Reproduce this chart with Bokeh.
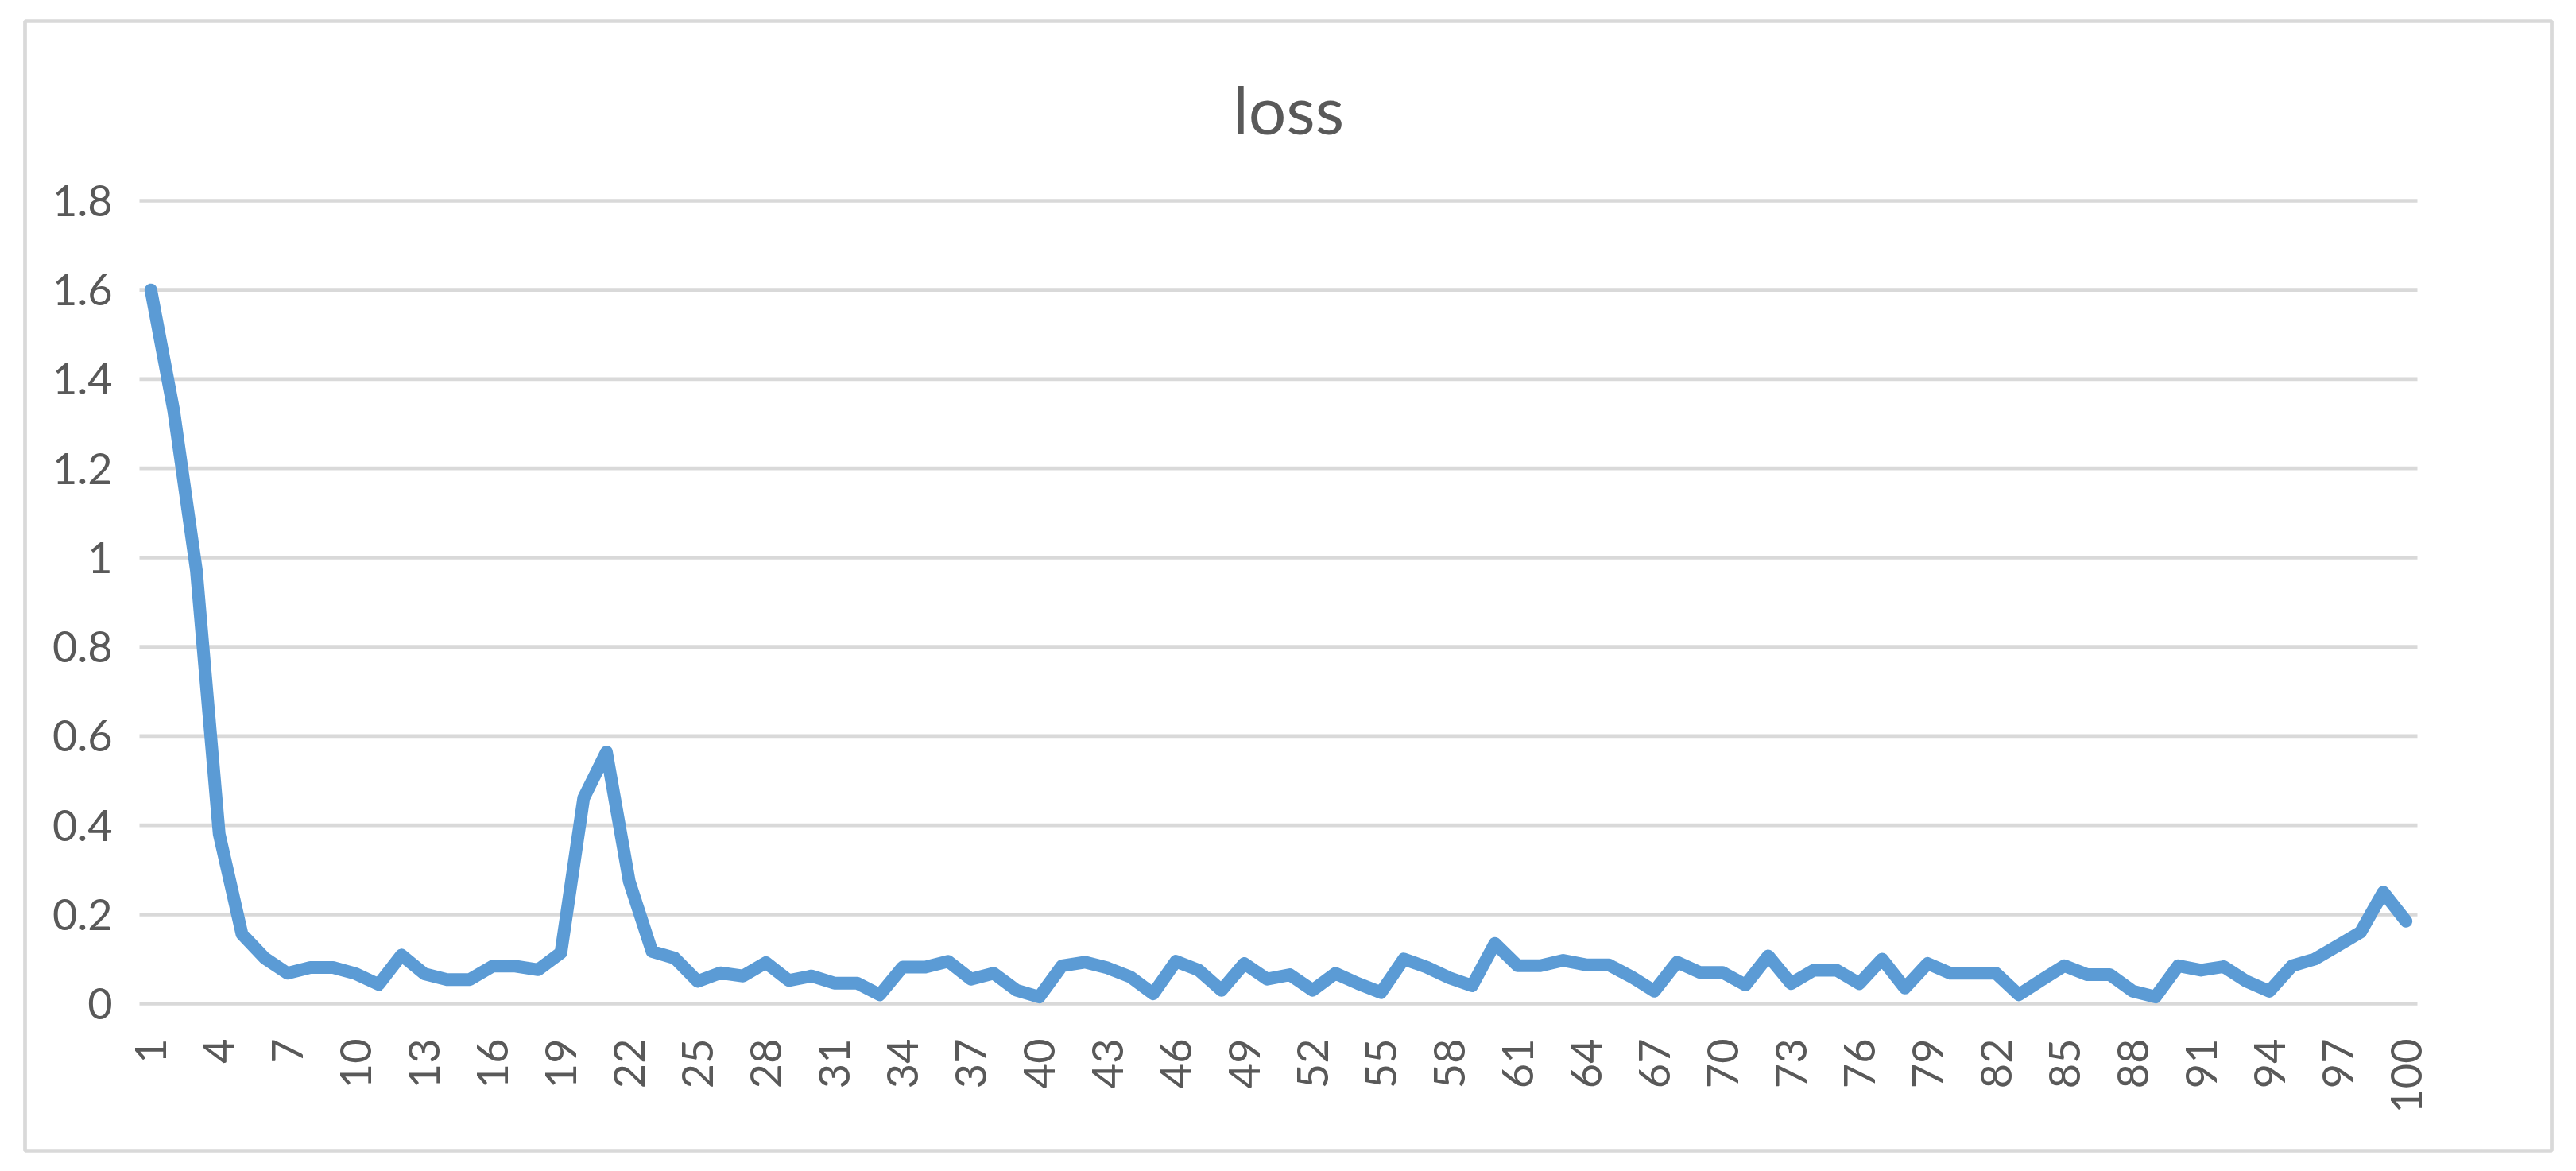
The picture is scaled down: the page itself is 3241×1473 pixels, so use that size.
import math
from bokeh.plotting import figure
from bokeh.models import FixedTicker, Range1d, Label
from bokeh.embed import file_html
from bokeh.resources import INLINE

chart_title = "loss"
epochs = list(range(1, 101))
loss = [
    1.60, 1.33, 0.97, 0.38, 0.156, 0.102, 0.068, 0.081, 0.081, 0.067,
    0.043, 0.109, 0.067, 0.054, 0.054, 0.084, 0.084, 0.076, 0.114, 0.461,
    0.564, 0.274, 0.117, 0.102, 0.050, 0.069, 0.062, 0.092, 0.052, 0.062,
    0.046, 0.046, 0.020, 0.082, 0.082, 0.095, 0.055, 0.068, 0.030, 0.015,
    0.085, 0.093, 0.080, 0.060, 0.022, 0.095, 0.075, 0.030, 0.090, 0.055,
    0.065, 0.030, 0.068, 0.045, 0.025, 0.100, 0.082, 0.058, 0.040, 0.135,
    0.085, 0.085, 0.097, 0.087, 0.087, 0.060, 0.028, 0.093, 0.070, 0.070,
    0.042, 0.107, 0.045, 0.075, 0.075, 0.045, 0.100, 0.035, 0.090, 0.068,
    0.068, 0.068, 0.020, 0.053, 0.085, 0.065, 0.065, 0.028, 0.015, 0.085,
    0.075, 0.083, 0.050, 0.028, 0.085, 0.100, 0.130, 0.160, 0.250, 0.185,
]
x_tick_values = [1, 4, 7, 10, 13, 16, 19, 22, 25, 28, 31, 34, 37, 40, 43, 46, 49,
                 52, 55, 58, 61, 64, 67, 70, 73, 76, 79, 82, 85, 88, 91, 94, 97, 100]
y_tick_values = [0, 0.2, 0.4, 0.6, 0.8, 1.0, 1.2, 1.4, 1.6, 1.8]
y_tick_labels = ["0", "0.2", "0.4", "0.6", "0.8", "1", "1.2", "1.4", "1.6", "1.8"]

# ---- layout (canvas pixels) ----
W, H = 3225, 1457
# chart-area border box (becomes the Bokeh frame, its outline = Excel border)
BL, BR, BT, BB = 31, 3210, 26, 1447
# plot area (where categories 0.5..100.5 and values 0..1.8 live)
PL, PR, PT, PB = 175, 3041, 252, 1262
X0, X1 = 0.5, 100.5
Y0, Y1 = 0.0, 1.8
sx = (PR - PL) / (X1 - X0)
sy = (PB - PT) / (Y1 - Y0)
x_start = X0 - (PL - BL) / sx
x_end = X1 + (BR - PR) / sx
y_start = Y0 - (BB - PB) / sy
y_end = Y1 + (PT - BT) / sy

FONT = "Lato"
TXT = "#595959"
GRID = "#D9D9D9"

p = figure(width=W, height=H, output_backend="svg", toolbar_location=None,
           x_range=Range1d(x_start, x_end), y_range=Range1d(y_start, y_end),
           min_border_left=BL, min_border_right=W - BR,
           min_border_top=BT, min_border_bottom=H - BB)
p.outline_line_color = GRID
p.outline_line_width = 4.7
p.background_fill_color = "white"
p.border_fill_color = "white"
p.xgrid.grid_line_color = None
p.ygrid.grid_line_color = None

# horizontal gridlines across the plot area
n = len(y_tick_values)
p.segment(x0=[X0] * n, y0=y_tick_values, x1=[X1] * n, y1=y_tick_values,
          line_color=GRID, line_width=4.7)

p.line(epochs, loss, line_width=16, line_color="#5B9BD5",
       line_join="round", line_cap="round")

p.yaxis.ticker = FixedTicker(ticks=y_tick_values)
p.yaxis.major_label_overrides = {v: l for v, l in zip(y_tick_values, y_tick_labels)}
p.yaxis.fixed_location = X0
p.xaxis.ticker = FixedTicker(ticks=x_tick_values)
p.xaxis.major_label_orientation = math.pi / 2
p.xaxis.fixed_location = Y0

for ax in (p.xaxis[0], p.yaxis[0]):
    ax.axis_line_color = None
    ax.major_tick_line_color = None
    ax.minor_tick_line_color = None
    ax.major_tick_in = 0
    ax.major_tick_out = 0
    ax.minor_tick_in = 0
    ax.minor_tick_out = 0
    ax.major_label_text_font = FONT
    ax.major_label_text_font_size = "54px"
    ax.major_label_text_color = TXT
p.yaxis.major_label_standoff = 34
p.xaxis.major_label_standoff = 44

# chart title, centred over the chart area
title_baseline = Y1 + (PT - 136) / sy
p.add_layout(Label(x=(x_start + x_end) / 2, y=title_baseline, text=chart_title,
                   text_font=FONT, text_font_size="84px", text_color=TXT,
                   text_align="center", text_baseline="alphabetic"))

open("out.html", "w").write(file_html(p, INLINE))
